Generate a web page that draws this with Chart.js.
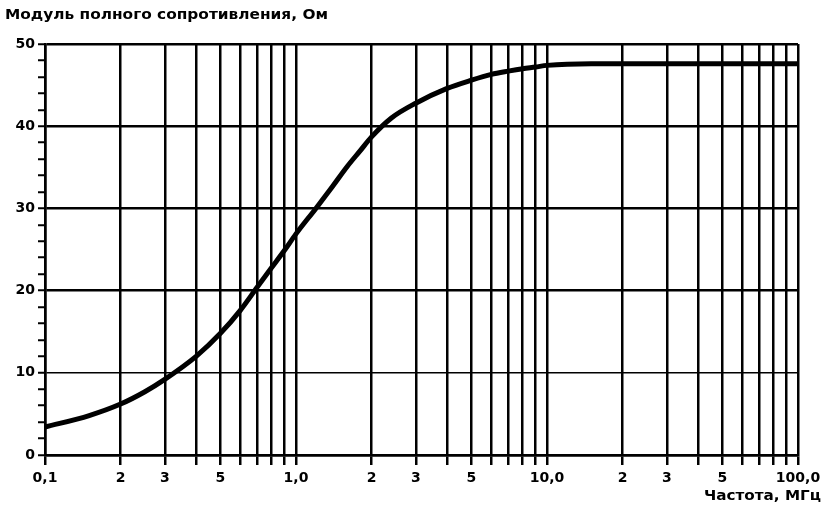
<!DOCTYPE html>
<html><head><meta charset="utf-8">
<script src="https://cdn.jsdelivr.net/npm/chart.js@4/dist/chart.umd.min.js"></script>
<style>html,body{margin:0;padding:0;background:#fff}#wrap{width:823px;height:509px;position:relative}</style>
</head><body><div id="wrap"><canvas id="c"></canvas></div>
<script>
const frequencies = [0.1,0.15,0.2,0.25,0.3,0.4,0.5,0.6,0.7,0.8,0.9,1.0,1.2,1.4,1.6,1.8,2.0,2.4,3.0,4.0,5.0,6.0,7.0,8.0,9.0,10,15,20,50,100];
const impedance   = [3.4,4.8,6.2,7.7,9.2,12.0,14.8,17.6,20.4,22.8,24.9,26.9,30.0,32.7,35.1,37.0,38.7,41.0,42.8,44.6,45.6,46.3,46.7,47.0,47.2,47.4,47.6,47.6,47.6,47.6];
const xTickValues = [0.1,0.2,0.3,0.4,0.5,0.6,0.7,0.8,0.9,1,2,3,4,5,6,7,8,9,10,20,30,40,50,60,70,80,90,100];
const xTickLabels = {0.1:'0,1',0.2:'2',0.3:'3',0.5:'5',1:'1,0',2:'2',3:'3',5:'5',10:'10,0',20:'2',30:'3',50:'5',100:'100,0'};
const yTitle = 'Модуль полного сопротивления, Ом';
const xTitle = 'Частота, МГц';

const FONT = "'DejaVu Sans', 'Liberation Sans', Arial, sans-serif";
function fitText(ctx, text, x, y, width, align){
  const w = ctx.measureText(text).width;
  const s = width / w;
  ctx.save();
  ctx.translate(align === 'right' ? x - width : x, y);
  ctx.scale(s, 1);
  ctx.textAlign = 'left';
  ctx.fillText(text, 0, 0);
  ctx.restore();
}
const titles = {
  id:'titles',
  afterDraw(chart){
    const ctx = chart.ctx;
    ctx.save();
    ctx.fillStyle = '#000';
    ctx.font = 'bold 14px ' + FONT;
    ctx.textBaseline = 'middle';
    fitText(ctx, yTitle, 5, 15, 323, 'left');
    fitText(ctx, xTitle, 821, 496, 117, 'right');
    ctx.restore();
  }
};

new Chart(document.getElementById('c'), {
  type:'line',
  data:{datasets:[{data: frequencies.map((f,i)=>({x:f,y:impedance[i]})), borderColor:'#000', borderWidth:5, pointRadius:0, cubicInterpolationMode:'monotone', fill:false}]},
  options:{
    responsive:true, maintainAspectRatio:false, animation:false,
    layout:{padding:{left:0,right:25,top:44,bottom:0}},
    plugins:{legend:{display:false},tooltip:{enabled:false}},
    scales:{
      x:{type:'logarithmic', min:0.1, max:100,
        afterBuildTicks(s){ s.ticks = xTickValues.map(v=>({value:v})); },
        afterFit(s){ s.height = 54; s.paddingLeft = 0; s.paddingRight = 0; },
        border:{color:'#000', width:2.5},
        grid:{color:'#000', lineWidth:2.5, tickLength:10, tickColor:'#000'},
        ticks:{autoSkip:false, maxRotation:0, color:'#000', padding:5, font:{family:FONT, size:14, weight:'bold'},
          callback(v){ const l = xTickLabels[Number(v)]; return l === undefined ? '' : l; }}
      },
      y:{min:0, max:50,
        afterFit(s){ s.width = 45; s.paddingTop = 0; s.paddingBottom = 0; },
        border:{color:'#000', width:2.5},
        grid:{color:c=> (c.tick && c.tick.value % 10 === 0) ? '#000' : 'rgba(0,0,0,0)',
              lineWidth:c=> (c.tick && c.tick.value === 10) ? 1.5 : 2.5,
              tickLength:7, tickColor:'#000', tickWidth:2},
        ticks:{stepSize:2, autoSkip:false, color:'#000', padding:3, font:{family:FONT, size:14, weight:'bold'},
          callback(v){ return v % 10 === 0 ? String(v) : ''; }}
      }
    }
  },
  plugins:[titles]
});
</script></body></html>
